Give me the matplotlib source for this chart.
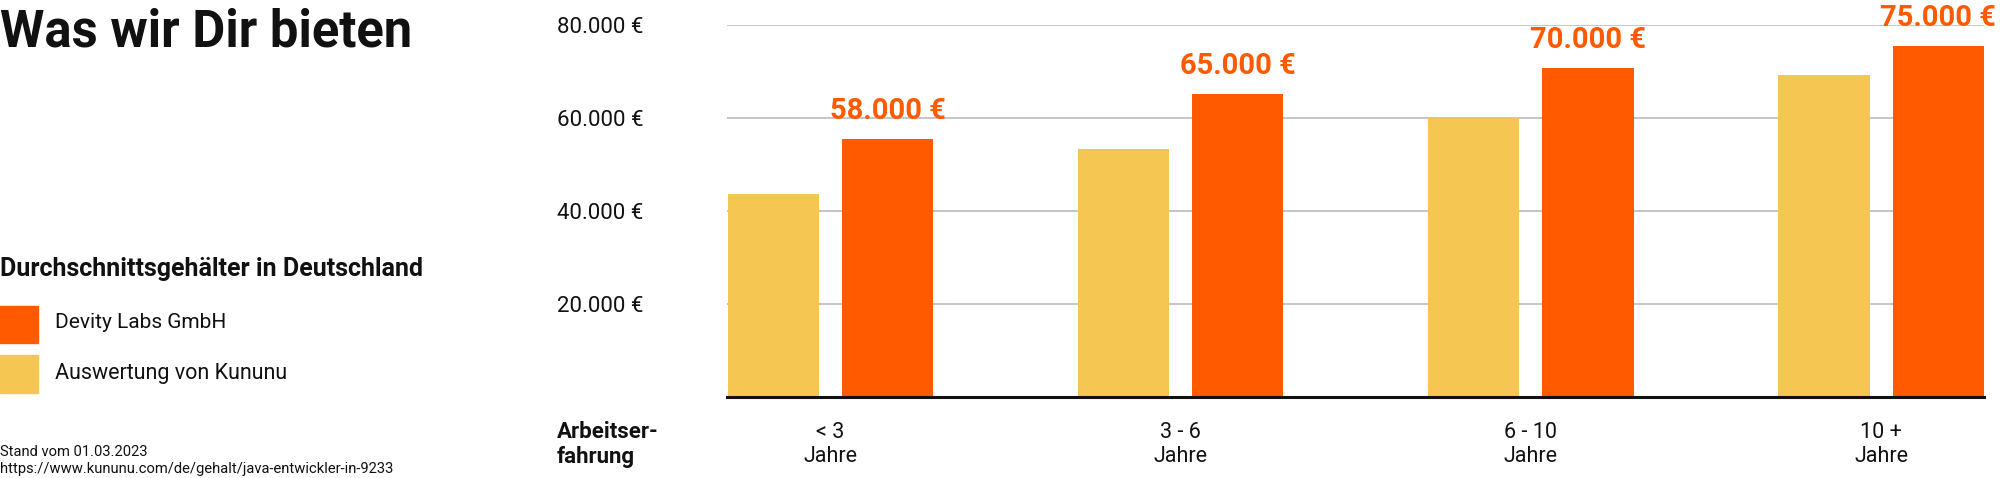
import numpy as np
import matplotlib
matplotlib.use("Agg")
import matplotlib.pyplot as plt
from matplotlib.patches import Rectangle
from matplotlib.ticker import FuncFormatter

plt.rcParams['font.family'] = ['Roboto', 'DejaVu Sans']

# Daten
kategorien = ["< 3\nJahre", "3 - 6\nJahre", "6 - 10\nJahre", "10 +\nJahre"]
kununu = [43700, 53400, 60200, 69300]          # Auswertung von Kununu
devity = [55500, 65200, 70800, 75600]          # Devity Labs GmbH (Balkenhöhe)
devity_angebot = [58000, 65000, 70000, 75000]  # Beschriftung über den Balken
y_ticks = [20000, 40000, 60000, 80000]

ORANGE = "#FF5A00"
GELB = "#F5C752"
TEXT = "#111111"

def euro(v):
    return f"{v:,.0f}".replace(",", ".") + " €"

fig = plt.figure(figsize=(20, 4.78), dpi=100)
ax = fig.add_axes([0.3635, 0.1701, 0.6285, 0.7766])

x = np.arange(len(kategorien))
breite = 0.26
abstand = 0.163
ax.bar(x - abstand, kununu, width=breite, color=GELB, zorder=2)
ax.bar(x + abstand, devity, width=breite, color=ORANGE, zorder=2)

for xi, h, wert in zip(x + abstand, devity, devity_angebot):
    ax.annotate(euro(wert), (xi, h), xytext=(0, 20), textcoords="offset points",
                ha="center", va="center", fontsize=21, fontweight="bold",
                color=ORANGE, annotation_clip=False)

ax.set_xlim(-0.296, 3.294)
ax.set_ylim(0, 80000)
ax.set_yticks(y_ticks)
ax.yaxis.set_major_formatter(FuncFormatter(lambda v, p: euro(v)))
ax.tick_params(axis="y", length=0, pad=122.4, labelsize=16, labelcolor=TEXT)
for lab in ax.get_yticklabels():
    lab.set_horizontalalignment("left")
ax.set_xticks(x)
ax.set_xticklabels(kategorien, fontsize=15.5, color=TEXT, linespacing=1.2)
ax.tick_params(axis="x", length=0, pad=18)

ax.grid(axis="y", color="#BBBBBB", linewidth=1.2)
ax.set_axisbelow(True)
for s in ["top", "right", "left"]:
    ax.spines[s].set_visible(False)
ax.spines["bottom"].set_linewidth(2.2)
ax.spines["bottom"].set_color("#111111")
ax.spines["bottom"].set_zorder(3)

# Linke Seite
fig.text(0.0, 0.933, "Was wir Dir bieten", fontsize=36.5, fontweight="bold",
         color=TEXT, ha="left", va="center")
fig.text(0.0, 0.437, "Durchschnittsgehälter in Deutschland", fontsize=18,
         fontweight="bold", color=TEXT, ha="left", va="center")

fig.add_artist(Rectangle((0.0, 0.2824), 0.019, 0.0774, color=ORANGE,
                         transform=fig.transFigure))
fig.add_artist(Rectangle((0.0, 0.1778), 0.019, 0.0795, color=GELB,
                         transform=fig.transFigure))
fig.text(0.0275, 0.3243, "Devity Labs GmbH", fontsize=15, color=TEXT,
         ha="left", va="center")
fig.text(0.0275, 0.2176, "Auswertung von Kununu", fontsize=15.5, color=TEXT,
         ha="left", va="center")

fig.text(0.0, 0.0544, "Stand vom 01.03.2023", fontsize=10.6, color=TEXT,
         ha="left", va="center")
fig.text(0.0, 0.0188, "https://www.kununu.com/de/gehalt/java-entwickler-in-9233",
         fontsize=10.6, color=TEXT, ha="left", va="center")

fig.text(0.2785, 0.070, "Arbeitser-\nfahrung", fontsize=16, fontweight="bold",
         color=TEXT, ha="left", va="center", linespacing=1.15)

fig.savefig("out.png", dpi=100)
